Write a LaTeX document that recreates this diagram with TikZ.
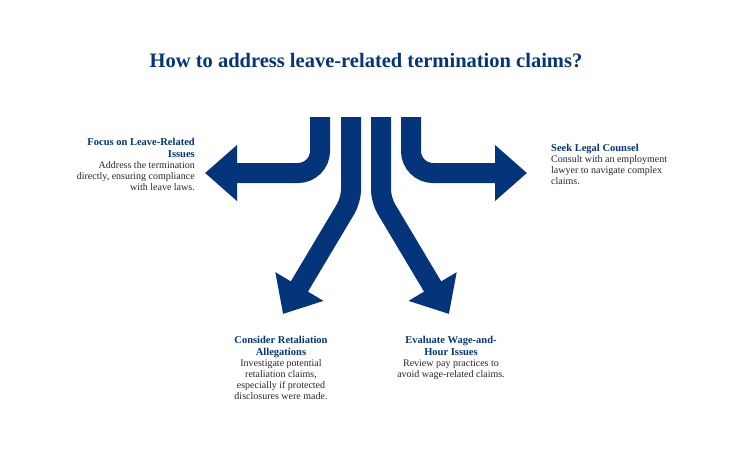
\documentclass[tikz,border=0pt]{standalone}
\usepackage{fontspec}
\setmainfont{Liberation Serif}
\usetikzlibrary{arrows.meta}
\definecolor{navy}{HTML}{04347A}
\newcommand{\hdx}[1]{{\fontsize{10.5}{12.5}\selectfont\bfseries\color{navy}#1}}
\newcommand{\txx}[1]{{\fontsize{10}{12}\selectfont\color{black!85}#1}}
\begin{document}
\begin{tikzpicture}[x=1pt,y=-1pt,
  arr/.style={draw=navy,line width=20pt,-{Triangle[width=54pt,length=32pt]},rounded corners=22pt}]
\useasboundingbox (0,0) rectangle (732,464);
\node[font=\fontsize{20.5}{24}\selectfont\bfseries,text=navy] (title) at (366,61) {How to address leave-related termination claims?};
\coordinate (s1) at (320,117); \coordinate (t1) at (205,173);
\coordinate (s2) at (351,117); \coordinate (t2) at (283,314);
\coordinate (s3) at (381,117); \coordinate (t3) at (449,314);
\coordinate (s4) at (411,117); \coordinate (t4) at (527,173);
\draw[arr] (s1) -- (320,173) -- (t1);
\draw[arr,rounded corners=10pt] (s2) -- (351,200) -- (t2);
\draw[arr,rounded corners=10pt] (s3) -- (381,200) -- (t3);
\draw[arr] (s4) -- (411,173) -- (t4);
\node[anchor=north east,inner sep=0pt] (n1) at (195,137) {\begin{tabular}{@{}r@{}}\hdx{Focus on Leave-Related}\\\hdx{Issues}\\[-1pt]
\txx{Address the termination}\\[-1pt]\txx{directly, ensuring compliance}\\[-1pt]\txx{with leave laws.}\end{tabular}};
\node[anchor=north west,inner sep=0pt] (n4) at (551,143) {\begin{tabular}{@{}l@{}}\hdx{Seek Legal Counsel}\\[-1pt]
\txx{Consult with an employment}\\[-1pt]\txx{lawyer to navigate complex}\\[-1pt]\txx{claims.}\end{tabular}};
\node[anchor=north,inner sep=0pt] (n2) at (281,335) {\begin{tabular}{@{}c@{}}\hdx{Consider Retaliation}\\\hdx{Allegations}\\[-1pt]
\txx{Investigate potential}\\[-1pt]\txx{retaliation claims,}\\[-1pt]\txx{especially if protected}\\[-1pt]\txx{disclosures were made.}\end{tabular}};
\node[anchor=north,inner sep=0pt] (n3) at (451,335) {\begin{tabular}{@{}c@{}}\hdx{Evaluate Wage-and-}\\\hdx{Hour Issues}\\[-1pt]
\txx{Review pay practices to}\\[-1pt]\txx{avoid wage-related claims.}\end{tabular}};
\end{tikzpicture}
\end{document}
